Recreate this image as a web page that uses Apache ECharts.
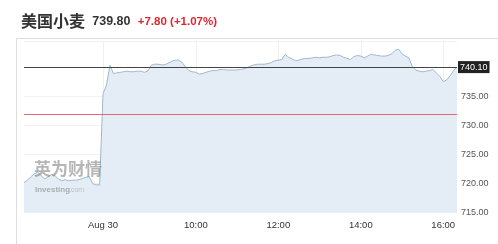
<!DOCTYPE html>
<html><head><meta charset="utf-8">
<script src="https://cdn.jsdelivr.net/npm/echarts@6/dist/echarts.min.js"></script>
<style>html,body{margin:0;padding:0;background:#fff}#c{width:498px;height:244px}</style>
</head><body><div id="c"></div>
<script>
// Title texts
const titleName = '美国小麦';
const lastPrice = '739.80';
const changeText = '+7.80 (+1.07%)';
// Time categories: 5-minute steps
const startMinute = 350; // 05:50
const stepMinutes = 5;
const prices = [
720.2,720.6,721.2,721.7,722.0,721.4,720.8,721.2,721.6,721.4,
720.8,720.5,720.7,720.5,720.6,720.6,720.7,720.9,721.1,721.2,
720.0,719.8,719.8,735.5,737.0,740.4,739.0,739.1,739.2,739.3,
739.4,739.3,739.3,739.4,739.4,739.2,739.4,740.4,740.6,740.6,
740.5,740.5,740.8,741.1,741.3,741.3,740.9,740.1,739.5,739.3,
739.2,738.9,739.0,739.2,739.4,739.5,739.5,739.7,739.7,739.6,
739.6,739.6,739.6,739.7,739.8,740.0,740.3,740.5,740.6,740.6,
740.6,740.7,740.9,741.2,741.3,741.4,742.3,741.8,741.5,741.2,
741.3,741.5,741.6,741.6,741.7,741.8,741.7,741.8,741.8,741.9,
742.1,742.2,742.1,741.8,741.6,741.4,741.9,742.1,742.0,741.7,
742.0,742.3,742.2,742.1,742.0,742.0,742.1,742.4,743.0,743.2,
742.4,742.0,741.7,740.2,739.6,739.4,739.3,739.4,739.5,739.7,
739.1,738.5,737.6,737.9,738.6,739.5,740.1
];
const categories = [];
for (let i = 0; i < prices.length; i++) {
  const m = startMinute + i * stepMinutes;
  const hh = String(Math.floor(m / 60)).padStart(2, '0');
  const mm = String(m % 60).padStart(2, '0');
  categories.push(hh + ':' + mm);
}
// X tick labels: category -> shown text
const tickCategories = ['07:45', '10:00', '12:00', '14:00', '16:00'];
const tickLabels = ['Aug 30', '10:00', '12:00', '14:00', '16:00'];
// Y axis
const yMin = 715, yMax = 744.6, yInterval = 5;
// Reference lines
const currentLine = 740.10;
const prevCloseLine = 732.00;

const chart = echarts.init(document.getElementById('c'), null, {renderer: 'canvas'});
const isTick = (idx) => tickCategories.indexOf(categories[idx]) >= 0;
chart.setOption({
  animation: false,
  textStyle: {fontFamily: 'Liberation Sans, Arial, sans-serif'},
  title: {
    text: titleName + '  {p|' + lastPrice + '}  {c|' + changeText + '}',
    left: 16, top: 8,
    textStyle: {
      fontFamily: 'Noto Sans CJK SC, sans-serif', fontSize: 16, fontWeight: 'bold', color: '#333',
      rich: {
        p: {fontFamily: 'Liberation Sans, Arial', fontSize: 12.5, fontWeight: 'bold', color: '#333', padding: [2, 0, 0, 0]},
        c: {fontFamily: 'Liberation Sans, Arial', fontSize: 11.5, fontWeight: 'bold', color: '#e3262e', padding: [2, 0, 0, 0]}
      }
    }
  },
  graphic: [
    {type: 'line', shape: {x1: 16.5, y1: 38.5, x2: 498, y2: 38.5}, style: {stroke: '#ddd', lineWidth: 1}, silent: true},
    {type: 'line', shape: {x1: 16.5, y1: 38.5, x2: 16.5, y2: 244}, style: {stroke: '#ddd', lineWidth: 1}, silent: true},
    {type: 'text', left: 34, top: 160, style: {text: '英为财情', fontFamily: 'Noto Sans CJK SC', fontSize: 17, fontWeight: 'bold', fill: 'rgba(120,120,120,0.55)'}, silent: true, z: 10},
    {type: 'text', left: 35, top: 186, style: {text: 'Investing', fontFamily: 'Liberation Sans', fontSize: 8, fontWeight: 'bold', fill: 'rgba(120,120,120,0.55)'}, silent: true, z: 10},
    {type: 'text', left: 69, top: 187, style: {text: '.com', fontFamily: 'Liberation Sans', fontSize: 7, fill: 'rgba(150,150,150,0.5)'}, silent: true, z: 10}
  ],
  grid: {left: 24, right: 41, top: 41, bottom: 31.3},
  xAxis: {
    type: 'category', data: categories, boundaryGap: false,
    axisLine: {show: false}, axisTick: {show: false},
    axisLabel: {
      interval: (idx) => isTick(idx),
      formatter: (v) => tickLabels[tickCategories.indexOf(v)],
      color: '#333', fontSize: 9.5, margin: 8
    },
    splitLine: {show: true, interval: (idx) => isTick(idx), lineStyle: {color: '#f0f0f0', width: 1}}
  },
  yAxis: {
    type: 'value', position: 'right', min: yMin, max: yMax, interval: yInterval,
    axisLine: {show: false}, axisTick: {show: false},
    axisLabel: {showMaxLabel: false, color: '#555', fontSize: 9, margin: 4, formatter: (v) => v.toFixed(2)},
    splitLine: {show: true, lineStyle: {color: '#f2f2f2'}}
  },
  series: [{
    type: 'line', data: prices, symbol: 'none', smooth: false,
    lineStyle: {color: '#9fb8cf', width: 1},
    areaStyle: {color: '#e4edf5', opacity: 1},
    markLine: {
      silent: true, symbol: 'none', animation: false,
      data: [
        {yAxis: currentLine, lineStyle: {color: '#444', width: 1, type: 'solid'},
          label: {show: true, position: 'end', formatter: currentLine.toFixed(2), backgroundColor: '#222', color: '#fff', fontSize: 9, padding: [2, 2, 1, 2], distance: 1}},
        {yAxis: prevCloseLine, lineStyle: {color: '#e06a72', width: 1, type: 'solid'}, label: {show: false}}
      ]
    }
  }]
});
</script></body></html>
